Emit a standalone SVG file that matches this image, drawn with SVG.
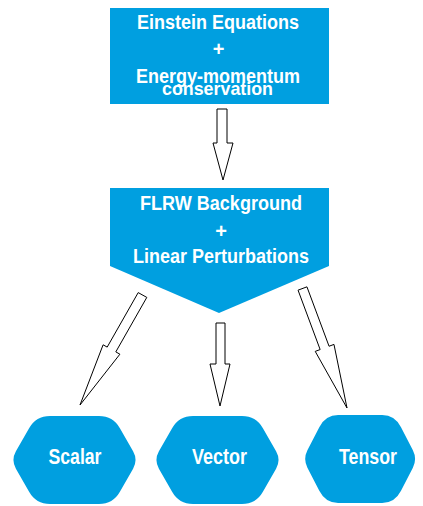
<svg xmlns="http://www.w3.org/2000/svg" width="423" height="506" viewBox="0 0 423 506">
<style>
.node{fill:#009FE0;}
.t{font-family:"Liberation Sans",Arial,sans-serif;font-weight:bold;fill:#fff;text-anchor:middle;}
.arr{fill:#fff;stroke:#000;stroke-width:1;stroke-linejoin:miter;}
</style>
<defs>
<path id="hex" d="M39,0 L88,0 Q102,0 108.9,12.2 L122.1,35.3 Q127,44 122.1,52.7 L108.9,75.8 Q102,88 88,88 L39,88 Q25,88 18.1,75.8 L4.9,52.7 Q0,44 4.9,35.3 L18.1,12.2 Q25,0 39,0 Z"/>
</defs>
<rect width="423" height="506" fill="#fff"/>
<g id="einstein">
<rect class="node" x="110" y="8" width="219" height="96"/>
<text class="t" x="218" y="29" font-size="20" textLength="162" lengthAdjust="spacingAndGlyphs">Einstein Equations</text>
<text class="t" x="218.5" y="56" font-size="20">+</text>
<text class="t" x="218" y="83" font-size="20" textLength="164" lengthAdjust="spacingAndGlyphs">Energy-momentum</text>
<text class="t" x="217.5" y="95" font-size="19" textLength="111" lengthAdjust="spacingAndGlyphs">conservation</text>
</g>
<g id="flrw">
<polygon class="node" points="110,188 329,188 329,266 219,313 110,266"/>
<text class="t" x="221" y="210" font-size="20" textLength="162" lengthAdjust="spacingAndGlyphs">FLRW Background</text>
<text class="t" x="221" y="238" font-size="20">+</text>
<text class="t" x="221" y="263" font-size="20" textLength="176" lengthAdjust="spacingAndGlyphs">Linear Perturbations</text>
</g>
<g id="scalar">
<use href="#hex" class="node" transform="translate(11,416)"/>
<text class="t" x="75" y="464" font-size="22" textLength="53" lengthAdjust="spacingAndGlyphs">Scalar</text>
</g>
<g id="vector">
<use href="#hex" class="node" transform="translate(154,416)"/>
<text class="t" x="219.5" y="464" font-size="22" textLength="55" lengthAdjust="spacingAndGlyphs">Vector</text>
</g>
<g id="tensor">
<use href="#hex" class="node" transform="translate(303,415) scale(0.9,1)"/>
<text class="t" x="368" y="464" font-size="22" textLength="58" lengthAdjust="spacingAndGlyphs">Tensor</text>
</g>
<g id="connectors">
<polygon class="arr" points="217,109 227,109 227,143 233,143 223,180 213,143 217,143"/>
<polygon class="arr" points="216,323 225,323 225,364 230,364 220,406 210,364 216,364"/>
<polygon class="arr" points="138.2,292.6 146.8,297.4 115.8,351.9 119.9,354.2 80,405 103.1,344.8 107.2,347.1"/>
<polygon class="arr" points="298.05,290.16 306.95,286.84 329.05,346.24 333.97,344.41 347,408 315.23,351.39 320.15,349.56"/>
</g>
</svg>
